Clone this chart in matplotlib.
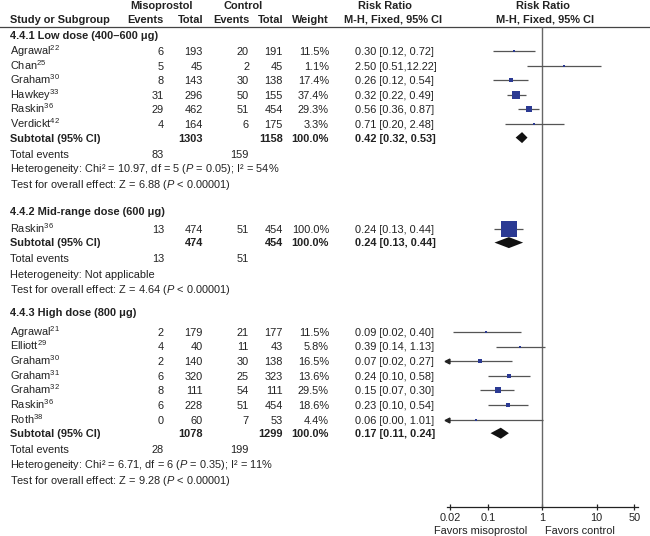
import numpy as np
import matplotlib.pyplot as plt

plt.rcParams['font.family'] = ['Liberation Sans', 'DejaVu Sans']
plt.rcParams['mathtext.fontset'] = 'custom'
plt.rcParams['mathtext.rm'] = 'Liberation Sans'
plt.rcParams['mathtext.it'] = 'Liberation Sans:italic'
plt.rcParams['mathtext.bf'] = 'Liberation Sans:bold'

# ---- dados ----
grupos = ["4.4.1 Low dose (400\u2013600 \u03bcg)",
          "4.4.2 Mid-range dose (600 \u03bcg)",
          "4.4.3 High dose (800 \u03bcg)"]

estudos = [["Agrawal", "Chan", "Graham", "Hawkey", "Raskin", "Verdickt"],
           ["Raskin"],
           ["Agrawal", "Elliott", "Graham", "Graham", "Graham", "Raskin", "Roth"]]
refs = [["22", "25", "30", "33", "36", "42"],
        ["36"],
        ["21", "29", "30", "31", "32", "36", "38"]]
ev_m = [[6, 5, 8, 31, 29, 4], [13], [2, 4, 2, 6, 8, 6, 0]]
tot_m = [[193, 45, 143, 296, 462, 164], [474], [179, 40, 140, 320, 111, 228, 60]]
ev_c = [[20, 2, 30, 50, 51, 6], [51], [21, 11, 30, 25, 54, 51, 7]]
tot_c = [[191, 45, 138, 155, 454, 175], [454], [177, 43, 138, 323, 111, 454, 53]]
peso = [[11.5, 1.1, 17.4, 37.4, 29.3, 3.3], [100.0], [11.5, 5.8, 16.5, 13.6, 29.5, 18.6, 4.4]]
rr = [[0.30, 2.50, 0.26, 0.32, 0.56, 0.71], [0.24], [0.09, 0.39, 0.07, 0.24, 0.15, 0.23, 0.06]]
lo = [[0.12, 0.51, 0.12, 0.22, 0.36, 0.20], [0.13], [0.022, 0.14, 0.016, 0.10, 0.07, 0.10, 0.003]]
hi = [[0.72, 12.22, 0.54, 0.49, 0.87, 2.48], [0.44], [0.40, 1.13, 0.27, 0.58, 0.30, 0.54, 1.01]]

sub_tot_m = [1303, 474, 1078]
sub_tot_c = [1158, 454, 1299]
sub_rr = [0.42, 0.24, 0.17]
sub_lo = [0.32, 0.13, 0.11]
sub_hi = [0.53, 0.44, 0.24]
sub_ev_m = [83, 13, 28]
sub_ev_c = [159, 51, 199]
heterog = ["Heterogeneity: Chi\u00b2 = 10.97, df = 5 ($P$ = 0.05); I\u00b2 = 54%",
           "Heterogeneity: Not applicable",
           "Heterogeneity: Chi\u00b2 = 6.71, df = 6 ($P$ = 0.35); I\u00b2 = 11%"]
teste = ["Test for overall effect: Z = 6.88 ($P$ < 0.00001)",
         "Test for overall effect: Z = 4.64 ($P$ < 0.00001)",
         "Test for overall effect: Z = 9.28 ($P$ < 0.00001)"]

ticks = [0.02, 0.1, 1, 10, 50]
tick_labels = ["0.02", "0.1", "1", "10", "50"]

# ---- layout (pixels) ----
W, H = 650, 536
fs = 7.9
cor = '#222222'
azul = '#2b3a93'
linha = '#555555'
y_eixo = 507
x_esq, x_dir = 446.7, 638
inicio_grupo = [35, 211, 312]
gap_primeira = [16, 18, 20]
passo = 14.6
meia_alt = 3.9  # metade da altura das maiusculas, em px

fig = plt.figure(figsize=(W / 100, H / 100), dpi=100)
tax = fig.add_axes([0, 0, 1, 1])
tax.set_xlim(0, W)
tax.set_ylim(H, 0)
tax.axis('off')

fax = fig.add_axes([x_esq / W, (H - y_eixo) / H, (x_dir - x_esq) / W, y_eixo / H])
fax.patch.set_alpha(0)
fax.set_xscale('log')
xmin, xmax = 10 ** -1.769, 10 ** 1.766
fax.set_xlim(xmin, xmax)
fax.set_ylim(y_eixo, 0)
for s in ['top', 'left', 'right']:
    fax.spines[s].set_visible(False)
fax.spines['bottom'].set_color(cor)
fax.spines['bottom'].set_linewidth(0.9)
fax.set_yticks([])
fax.set_xticks(ticks)
fax.set_xticklabels(tick_labels, fontsize=fs, color=cor)
fax.minorticks_off()
fax.tick_params(axis='x', direction='inout', length=5, width=0.9, color=cor, pad=1.5)

def txt(x, y, s, ha='left', bold=False):
    tax.text(x, y + meia_alt, s, ha=ha, va='baseline', fontsize=fs, color=cor,
             fontweight='bold' if bold else 'normal')

# cabecalho
txt(161.5, 5, "Misoprostol", ha='center', bold=True)
txt(243.5, 5, "Control", ha='center', bold=True)
txt(384.5, 5, "Risk Ratio", ha='center', bold=True)
txt(543, 5, "Risk Ratio", ha='center', bold=True)
txt(10, 19, "Study or Subgroup", bold=True)
txt(164, 19, "Events", ha='right', bold=True)
txt(203, 19, "Total", ha='right', bold=True)
txt(249, 19, "Events", ha='right', bold=True)
txt(283, 19, "Total", ha='right', bold=True)
txt(329, 19, "Weight", ha='right', bold=True)
txt(393, 19, "M-H, Fixed, 95% CI", ha='center', bold=True)
txt(545, 19, "M-H, Fixed, 95% CI", ha='center', bold=True)
tax.axhline(26.5, color='#444444', lw=0.9)
fax.vlines(1, 26.5, y_eixo, color='#666666', lw=1)

def ci_str(r, a, b):
    return "%.2f [%.2f,%5.2f]" % (r, a, b)

for g in range(3):
    y = inicio_grupo[g]
    txt(10, y, grupos[g], bold=True)
    y += gap_primeira[g]
    for i in range(len(estudos[g])):
        txt(10, y, estudos[g][i] + "$^{" + refs[g][i] + "}$")
        txt(164, y, str(ev_m[g][i]), ha='right')
        txt(203, y, str(tot_m[g][i]), ha='right')
        txt(249, y, str(ev_c[g][i]), ha='right')
        txt(283, y, str(tot_c[g][i]), ha='right')
        txt(329, y, "%.1f%%" % peso[g][i], ha='right')
        txt(355, y, ci_str(rr[g][i], lo[g][i], hi[g][i]))
        # linha do IC
        a = max(lo[g][i], xmin)
        fax.hlines(y, a, min(hi[g][i], xmax), color=linha, lw=0.9)
        if lo[g][i] < xmin:
            fax.plot([xmin], [y], marker='<', ms=3.5, color=cor, clip_on=False)
        lado = max(16 * (peso[g][i] / 100) ** 0.8, 1.8) * 0.72
        fax.scatter([rr[g][i]], [y], marker='s', s=lado ** 2, color=azul,
                    linewidths=0, zorder=3)
        y += passo
    y -= 1
    txt(10, y, "Subtotal (95% CI)", bold=True)
    txt(203, y, str(sub_tot_m[g]), ha='right', bold=True)
    txt(283, y, str(sub_tot_c[g]), ha='right', bold=True)
    txt(329, y, "100.0%", ha='right', bold=True)
    txt(355, y, ci_str(sub_rr[g], sub_lo[g], sub_hi[g]), bold=True)
    fax.fill([sub_lo[g], sub_rr[g], sub_hi[g], sub_rr[g]], [y, y - 5.5, y, y + 5.5],
             color='#111111', lw=0, zorder=4)
    y += 16
    txt(10, y, "Total events")
    txt(164, y, str(sub_ev_m[g]), ha='right')
    txt(249, y, str(sub_ev_c[g]), ha='right')
    y += 15
    txt(10, y, heterog[g])
    y += 15.5
    txt(10, y, teste[g])

fax.text(0.53, 530 + meia_alt, "Favors misoprostol", ha='right', va='baseline',
         fontsize=fs, color=cor)
fax.text(1.1, 530 + meia_alt, "Favors control", ha='left', va='baseline',
         fontsize=fs, color=cor)

fig.savefig("out.png", dpi=100)
